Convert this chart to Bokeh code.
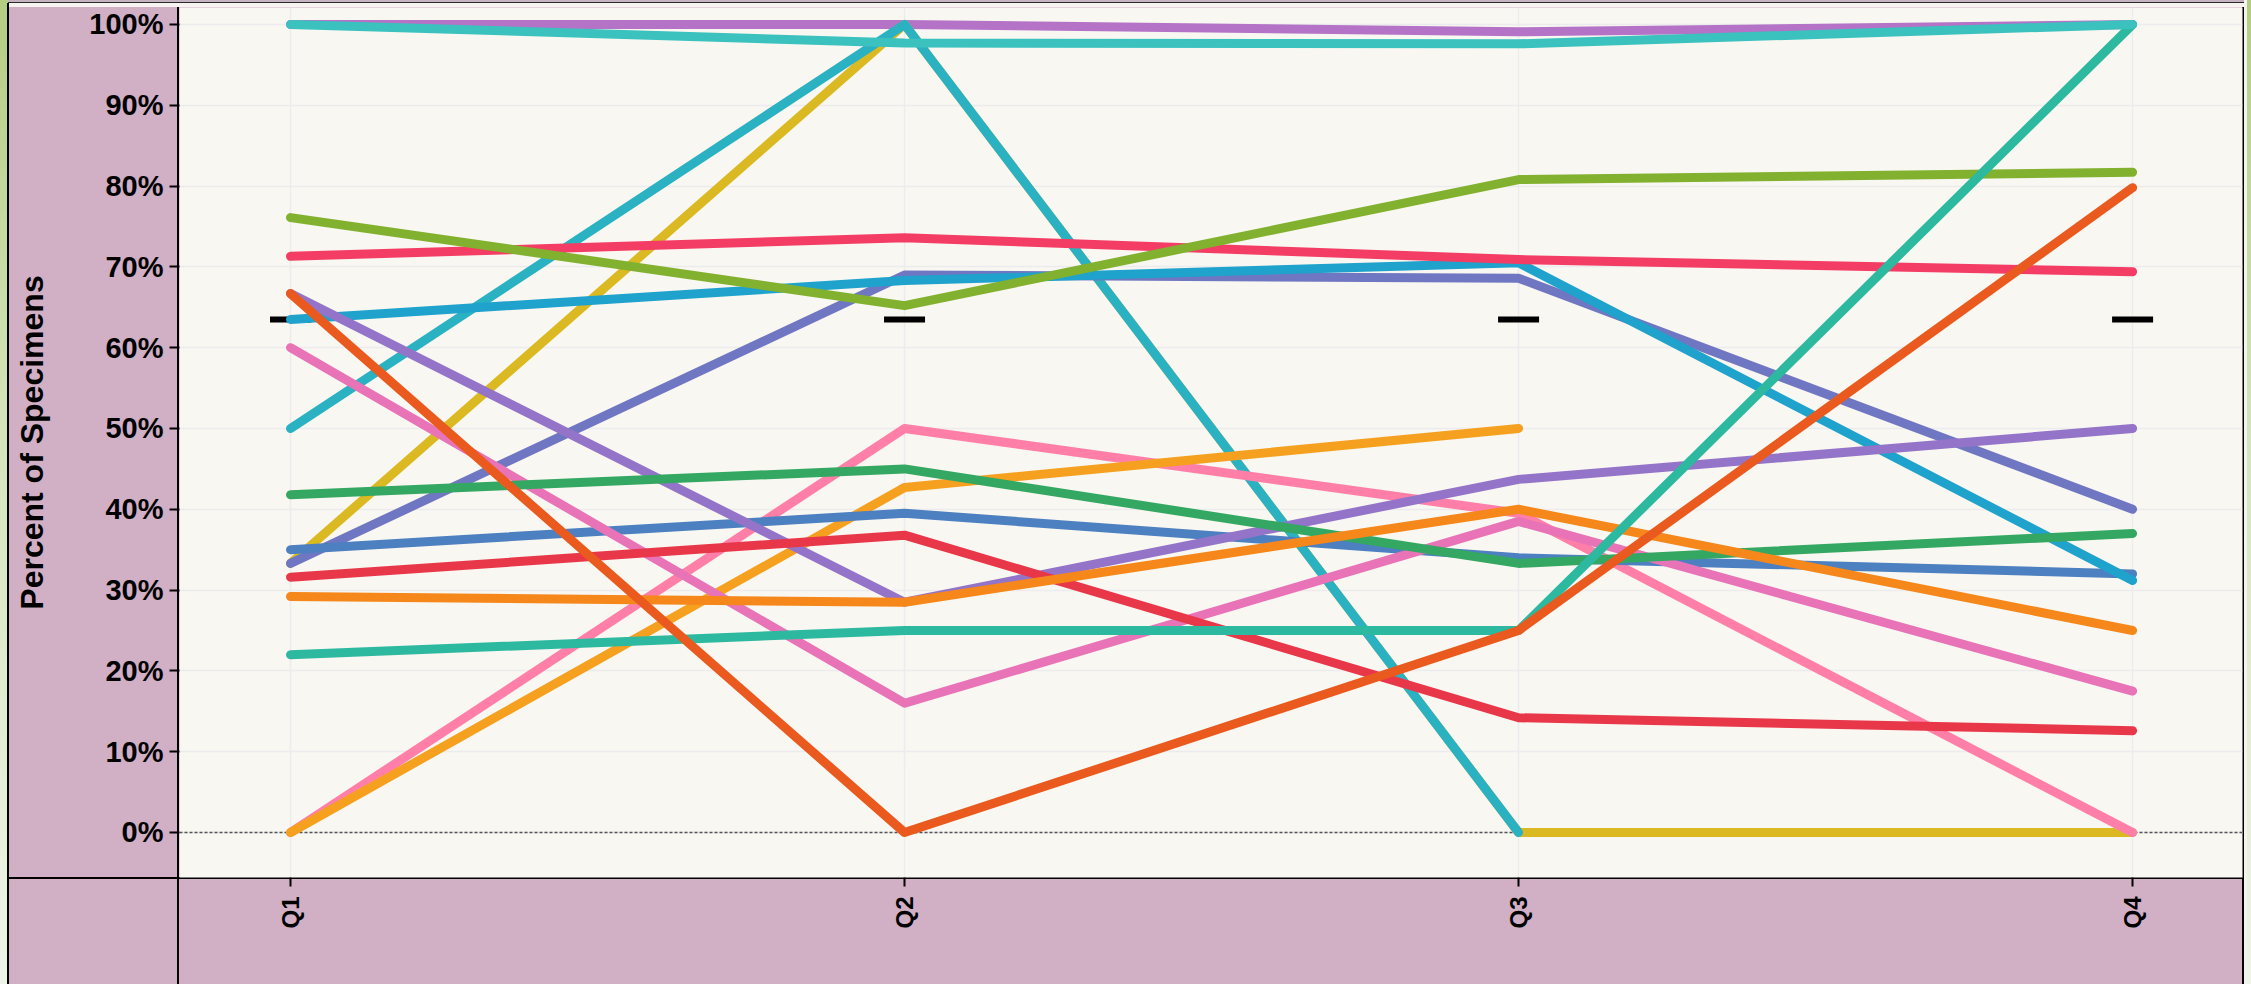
import math
from bokeh.plotting import figure
from bokeh.models import Range1d, FixedTicker, PrintfTickFormatter, Span
from bokeh.embed import file_html
from bokeh.resources import INLINE

NaN = float("nan")

quarters = ["Q1", "Q2", "Q3", "Q4"]
quarter_pos = [0, 1, 2, 3]
benchmark = [63.5, 63.5, 63.5, 63.5]

# series values (percent of specimens) per quarter
s_orchid = [100.0, 100.0, 99.1, 100.0]
s_mustard = [33.3, 100.0, 0.0, 0.0]
s_cyan = [50.0, 100.0, 0.0, NaN]
s_lightpink = [0.0, 50.0, 39.5, 0.0]
s_amber = [0.0, 42.7, 50.0, NaN]
s_slate = [33.3, 69.0, 68.6, 40.0]
s_steel = [35.0, 39.5, 34.0, 32.0]
s_blue = [63.5, 68.3, 70.5, 31.2]
s_hotpink = [60.0, 16.0, 38.5, 17.5]
s_purple = [66.7, 28.5, 43.7, 50.0]
s_green = [41.8, 45.0, 33.3, 37.0]
s_red = [31.6, 36.8, 14.2, 12.6]
s_orange = [29.2, 28.5, 40.0, 25.0]
s_rose = [71.3, 73.6, 70.9, 69.4]
s_lime = [76.1, 65.2, 80.8, 81.7]
s_jade = [22.0, 25.0, 25.0, 100.0]
s_vermilion = [66.7, 0.0, 25.0, 79.8]
s_teal = [100.0, 97.7, 97.6, 100.0]

series = [
    (s_orchid, "#b473c6"),
    (s_mustard, "#dbb922"),
    (s_cyan, "#2bb2c2"),
    (s_lightpink, "#ff7fa9"),
    (s_amber, "#f6a020"),
    (s_slate, "#7077c2"),
    (s_steel, "#4d80c0"),
    (s_blue, "#1fa2cb"),
    (s_hotpink, "#e873b6"),
    (s_purple, "#9474c8"),
    (s_green, "#34a862"),
    (s_red, "#e9374a"),
    (s_orange, "#f5871b"),
    (s_rose, "#f43d65"),
    (s_lime, "#82b12f"),
    (s_jade, "#2db9a0"),
    (s_vermilion, "#ea5a1f"),
    (s_teal, "#3bc2bf"),
]

W, H = 2251, 984
FL, FT, FR, FB = 179, 7, 2242, 877  # frame edges in page px


def rect(color, x, y, w, h):
    return f"linear-gradient({color},{color}) {x}px {y}px/{w}px {h}px no-repeat"


fig_bg = ", ".join([
    rect("#000", 7, 3, 2, H - 3),                 # outer left border
    rect("#000", FL - 2, FT, 2, H - FT),          # y-axis panel border
    rect("#000", 7, FB, FR + 2 - 7, 2),           # x-axis panel border
    rect("#000", FR, FT, 2, H - FT),              # right border
    rect("#2a2a2a", 8, 2, FR + 2 - 8, 1),         # top band line
    rect("#c5b3c2", 8, 0, FR + 2 - 8, 2),         # top band
    rect("#f6f3f1", 8, 3, FR + 2 - 8, FT - 3),    # top band light
    rect("#d1afc5", 9, FT, FR - 9, H - FT),       # mauve panels
    rect("#f3f4ee", FR + 2, 0, 3, H),             # light strip right
    "linear-gradient(to bottom, #b3cd82 0%, #d6e4bd 45%, #eef4e8 100%)",
])

p = figure(
    width=W, height=H,
    x_range=Range1d(-0.1808, 3.179),
    y_range=Range1d(-5.57, 102.1),
    output_backend="svg", toolbar_location=None,
    min_border_left=FL, min_border_right=W - FR, min_border_top=FT, min_border_bottom=H - FB,
    background_fill_color="#f9f7f1",
    border_fill_color=None,
    outline_line_color=None,
    styles={"background": fig_bg},
)

# grid
p.grid.grid_line_color = "#ececef"
p.grid.grid_line_width = 1.5

# x axis
p.xaxis.ticker = FixedTicker(ticks=quarter_pos)
p.xaxis.major_label_overrides = {i: q for i, q in zip(quarter_pos, quarters)}
p.xaxis.major_label_orientation = math.pi / 2
p.xaxis.major_label_text_font = "Liberation Sans"
p.xaxis.major_label_text_font_style = "bold"
p.xaxis.major_label_text_font_size = "24px"
p.xaxis.major_label_text_color = "#000000"
p.xaxis.major_label_standoff = 10
p.xaxis.major_tick_out = 9
p.xaxis.major_tick_in = 0
p.xaxis.major_tick_line_width = 2
p.xaxis.major_tick_line_color = "#000000"
p.xaxis.minor_tick_line_color = None
p.xaxis.axis_line_color = None

# y axis
p.yaxis.ticker = FixedTicker(ticks=list(range(0, 101, 10)))
p.yaxis.formatter = PrintfTickFormatter(format="%d%%")
p.yaxis.major_label_text_font = "Liberation Sans"
p.yaxis.major_label_text_font_style = "bold"
p.yaxis.major_label_text_font_size = "29px"
p.yaxis.major_label_text_color = "#000000"
p.yaxis.major_label_standoff = 6
p.yaxis.major_tick_out = 10
p.yaxis.major_tick_in = 0
p.yaxis.major_tick_line_width = 2
p.yaxis.major_tick_line_color = "#000000"
p.yaxis.minor_tick_line_color = None
p.yaxis.axis_line_color = None
p.yaxis.axis_label = "Percent of Specimens"
p.yaxis.axis_label_text_font = "Liberation Sans"
p.yaxis.axis_label_text_font_style = "bold"
p.yaxis.axis_label_text_font_size = "32px"
p.yaxis.axis_label_text_color = "#000000"
p.yaxis.axis_label_standoff = 36

# zero line
p.add_layout(Span(location=0, dimension="width", line_color="#555555",
                  line_dash="3 2", line_width=1.5, level="underlay"))

# benchmark dashes
p.scatter(quarter_pos, benchmark, marker="dash", size=41, line_width=6,
          line_color="#000000", fill_color="#000000")

for vals, col in series:
    p.line(quarter_pos, vals, line_color=col, line_width=9,
           line_cap="round", line_join="round")

open("out.html", "w").write(file_html(p, INLINE))
